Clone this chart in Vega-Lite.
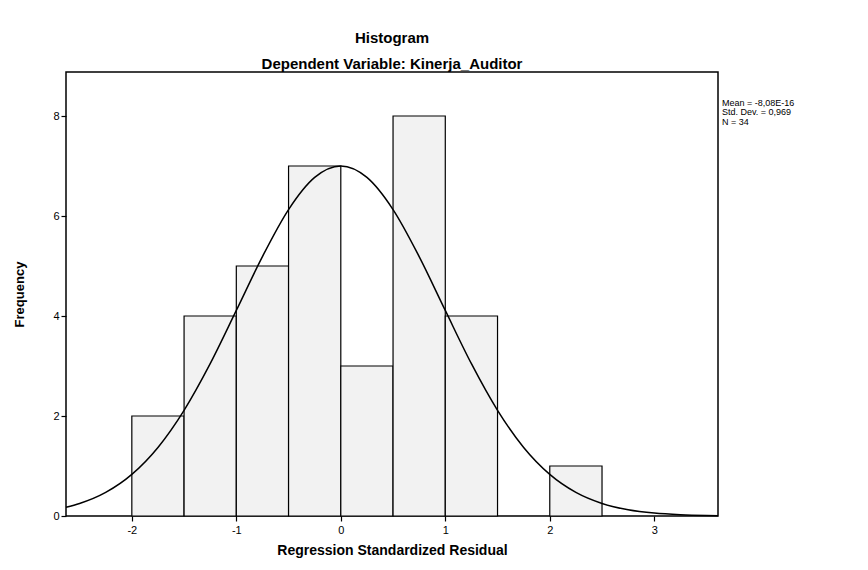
{
  "$schema": "https://vega.github.io/schema/vega-lite/v6.json",
  "autosize": "none",
  "width": 652,
  "height": 444,
  "padding": {"left": 66, "top": 72, "right": 150, "bottom": 54},
  "background": "white",
  "config": {
    "font": "Liberation Sans",
    "view": {"stroke": "black", "strokeWidth": 1.5},
    "axis": {
      "grid": false,
      "domain": false,
      "ticks": true,
      "tickColor": "black",
      "tickSize": 5,
      "tickWidth": 1.2,
      "labelColor": "black",
      "labelFontSize": 11,
      "labelFont": "Liberation Sans",
      "titleColor": "black",
      "titleFont": "Liberation Sans",
      "titleFontWeight": "bold"
    }
  },
  "title": {
    "text": "Histogram",
    "subtitle": "Dependent Variable: Kinerja_Auditor",
    "anchor": "middle",
    "font": "Liberation Sans",
    "fontSize": 15,
    "fontWeight": "bold",
    "color": "black",
    "subtitleFont": "Liberation Sans",
    "subtitleFontSize": 15,
    "subtitleFontWeight": "bold",
    "subtitleColor": "black",
    "subtitlePadding": 11,
    "offset": 0
  },
  "datasets": {
    "bins": [
      {"bin_start": -2.0, "bin_end": -1.5, "count": 2},
      {"bin_start": -1.5, "bin_end": -1.0, "count": 4},
      {"bin_start": -1.0, "bin_end": -0.5, "count": 5},
      {"bin_start": -0.5, "bin_end": 0.0, "count": 7},
      {"bin_start": 0.0, "bin_end": 0.5, "count": 3},
      {"bin_start": 0.5, "bin_end": 1.0, "count": 8},
      {"bin_start": 1.0, "bin_end": 1.5, "count": 4},
      {"bin_start": 2.0, "bin_end": 2.5, "count": 1}
    ],
    "curve": [
      {"x": -2.63, "y": 0.176},
      {"x": -2.5, "y": 0.251},
      {"x": -2.25, "y": 0.472},
      {"x": -2.0, "y": 0.832},
      {"x": -1.75, "y": 1.371},
      {"x": -1.5, "y": 2.113},
      {"x": -1.25, "y": 3.046},
      {"x": -1.0, "y": 4.111},
      {"x": -0.75, "y": 5.188},
      {"x": -0.5, "y": 6.128},
      {"x": -0.25, "y": 6.771},
      {"x": 0.0, "y": 7.0},
      {"x": 0.25, "y": 6.771},
      {"x": 0.5, "y": 6.128},
      {"x": 0.75, "y": 5.188},
      {"x": 1.0, "y": 4.111},
      {"x": 1.25, "y": 3.046},
      {"x": 1.5, "y": 2.113},
      {"x": 1.75, "y": 1.371},
      {"x": 2.0, "y": 0.832},
      {"x": 2.25, "y": 0.472},
      {"x": 2.5, "y": 0.251},
      {"x": 2.75, "y": 0.125},
      {"x": 3.0, "y": 0.058},
      {"x": 3.25, "y": 0.025},
      {"x": 3.5, "y": 0.010},
      {"x": 3.61, "y": 0.007}
    ]
  },
  "layer": [
    {
      "data": {"name": "bins"},
      "mark": {"type": "bar", "fill": "#f2f2f2", "stroke": "black", "strokeWidth": 1.2},
      "encoding": {
        "x": {
          "field": "bin_start",
          "type": "quantitative",
          "scale": {"domain": [-2.63, 3.61], "nice": false, "zero": false},
          "axis": {"values": [-2, -1, 0, 1, 2, 3], "labelExpr": "'' + datum.value", "title": "Regression Standardized Residual", "titleFontSize": 14, "titlePadding": 8, "labelPadding": 3}
        },
        "x2": {"field": "bin_end"},
        "y": {
          "field": "count",
          "type": "quantitative",
          "scale": {"domain": [0, 8.88], "nice": false},
          "axis": {"values": [0, 2, 4, 6, 8], "title": "Frequency", "titleFontSize": 13, "titlePadding": 26, "labelPadding": 2}
        },
        "y2": {"datum": 0}
      }
    },
    {
      "data": {"name": "curve"},
      "mark": {"type": "line", "color": "black", "strokeWidth": 1.5, "interpolate": "monotone"},
      "encoding": {
        "x": {"field": "x", "type": "quantitative"},
        "y": {"field": "y", "type": "quantitative"}
      }
    },
    {
      "data": {"values": [{"stats": "Mean = -8,08E-16\nStd. Dev. = 0,969\nN = 34"}]},
      "mark": {"type": "text", "align": "left", "baseline": "top", "fontSize": 9, "lineBreak": "\n", "lineHeight": 9.5, "clip": false, "color": "black", "dx": 4},
      "encoding": {
        "x": {"datum": 3.61},
        "y": {"datum": 8.35},
        "text": {"field": "stats"}
      }
    }
  ]
}
